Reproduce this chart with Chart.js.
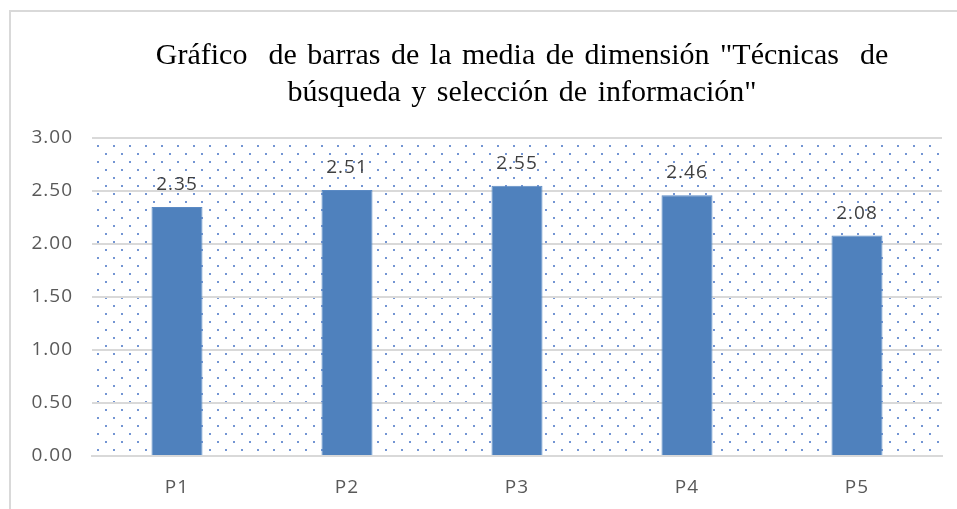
<!DOCTYPE html>
<html><head><meta charset="utf-8">
<script src="https://cdn.jsdelivr.net/npm/chart.js@4"></script>
<style>html,body{margin:0;padding:0;background:#fff}#w{width:957px;height:509px}</style>
</head><body><div id="w"><canvas id="c" width="957" height="509"></canvas></div>
<script>
const categories = ["P1", "P2", "P3", "P4", "P5"];
const means = [2.35, 2.51, 2.55, 2.46, 2.08];
const yTicks = [0, 0.5, 1, 1.5, 2, 2.5, 3];
const titleLines = ["Gráfico  de barras de la media de dimensión \"Técnicas  de", "búsqueda y selección de información\""];

const FONT = '"Open Sans", "Liberation Sans", sans-serif';

function makePattern(ctx){
  const t = document.createElement('canvas'); t.width = 16; t.height = 16;
  const g = t.getContext('2d');
  g.fillStyle = 'rgba(68,114,196,0.75)';
  g.fillRect(1,1,2,2);
  g.fillRect(9,9,2,2);
  return ctx.createPattern(t, 'repeat');
}

const deco = {
  id: 'deco',
  beforeDraw(chart){
    const ctx = chart.ctx, a = chart.chartArea;
    ctx.save();
    ctx.fillStyle = makePattern(ctx);
    ctx.fillRect(a.left, a.top, a.right - a.left, a.bottom - a.top);
    ctx.strokeStyle = '#d9d9d9'; ctx.lineWidth = 2;
    ctx.beginPath(); ctx.moveTo(10, 509); ctx.lineTo(10, 11); ctx.lineTo(957, 11); ctx.stroke();
    ctx.fillStyle = '#000'; ctx.font = '30px "Liberation Serif", "Times New Roman", serif';
    ctx.textAlign = 'center'; ctx.textBaseline = 'alphabetic';
    ctx.letterSpacing = '0px';
    ctx.wordSpacing = '3px';
    ctx.fillText(titleLines[0], 522, 64);
    ctx.fillText(titleLines[1], 522, 101);
    ctx.restore();
    ctx.letterSpacing = '1px';
  },
  afterDatasetsDraw(chart){
    const ctx = chart.ctx, meta = chart.getDatasetMeta(0);
    ctx.save();
    ctx.fillStyle = '#404040'; ctx.font = '19px ' + FONT;
    ctx.letterSpacing = '1px';
    ctx.textAlign = 'center'; ctx.textBaseline = 'alphabetic';
    meta.data.forEach((bar, i) => {
      ctx.fillText(chart.data.datasets[0].data[i].toFixed(2), bar.x, bar.y - 17);
    });
    ctx.restore();
  }
};

new Chart(document.getElementById('c'), {
  type: 'bar',
  data: { labels: categories, datasets: [{ data: means, backgroundColor: '#4f81bd', borderColor: '#5b8ac4', borderWidth: 1, categoryPercentage: 1, barPercentage: 0.3 }] },
  options: {
    responsive: false, animation: false,
    layout: { padding: { left: 10, right: 15, top: 138, bottom: 0 } },
    plugins: { legend: { display: false }, title: { display: false }, tooltip: { enabled: false } },
    scales: {
      x: {
        grid: { display: false, drawTicks: false },
        border: { display: true, color: '#d9d9d9', width: 2 },
        ticks: { color: '#595959', font: { size: 19, family: FONT }, padding: 20 },
        afterFit(s){ s.height = 53; }
      },
      y: {
        min: 0, max: 3,
        afterBuildTicks(s){ s.ticks = yTicks.map(v => ({ value: v })); },
        grid: { color: '#d9d9d9', lineWidth: 2, drawTicks: false },
        border: { display: false },
        ticks: { color: '#595959', font: { size: 19, family: FONT }, padding: 19, callback: v => Number(v).toFixed(2) },
        afterFit(s){ s.width = 82; }
      }
    }
  },
  plugins: [deco]
});
</script></body></html>
